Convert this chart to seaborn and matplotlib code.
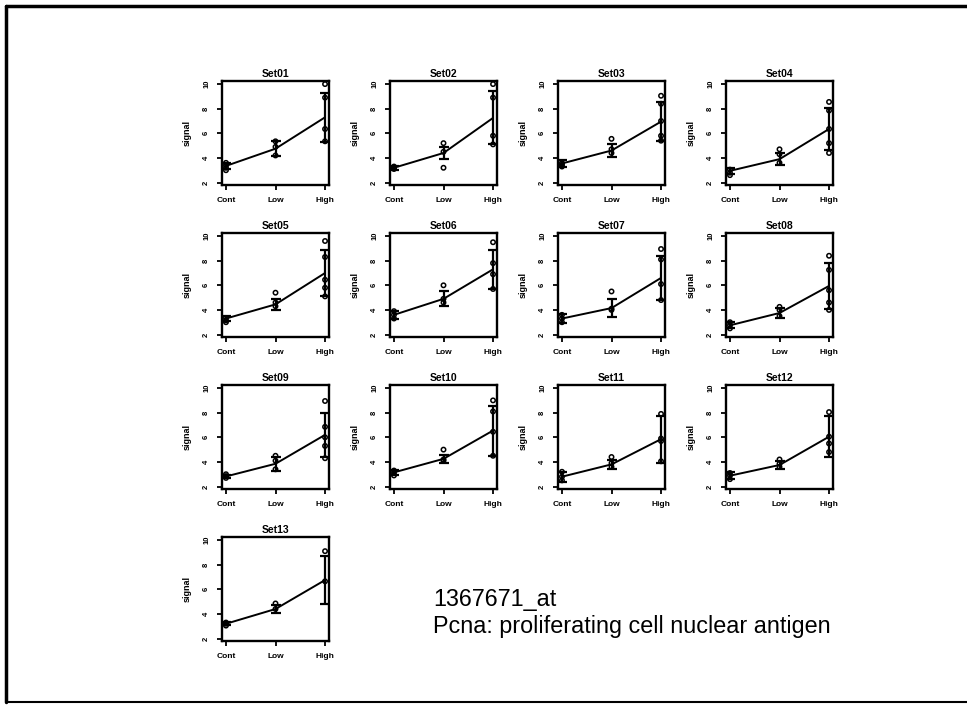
import numpy as np
import pandas as pd
import matplotlib
matplotlib.use("Agg")
import matplotlib.pyplot as plt
from matplotlib.lines import Line2D
import seaborn as sns

sns.set_style("white")
plt.rcParams['font.family'] = ['Liberation Sans', 'DejaVu Sans']
plt.rcParams.update({"text.color": "black", "axes.labelcolor": "black",
                     "xtick.color": "black", "ytick.color": "black"})

groups = ["Cont", "Low", "High"]
sets = ["Set01", "Set02", "Set03", "Set04", "Set05", "Set06", "Set07",
        "Set08", "Set09", "Set10", "Set11", "Set12", "Set13"]

mean_cont = [3.35, 3.2, 3.55, 2.95, 3.3, 3.6, 3.3, 2.75, 2.82, 3.15, 2.8, 2.88, 3.2]
mean_low = [4.75, 4.4, 4.6, 3.9, 4.45, 4.9, 4.15, 3.75, 3.85, 4.25, 3.8, 3.75, 4.4]
mean_high = [7.3, 7.25, 6.95, 6.35, 7.0, 7.3, 6.6, 5.95, 6.2, 6.55, 5.85, 6.05, 6.75]
sd_cont = [0.25, 0.15, 0.25, 0.22, 0.2, 0.35, 0.35, 0.25, 0.15, 0.2, 0.4, 0.3, 0.12]
sd_low = [0.6, 0.48, 0.5, 0.48, 0.45, 0.6, 0.7, 0.42, 0.55, 0.35, 0.35, 0.3, 0.35]
sd_high = [2.0, 2.15, 1.6, 1.7, 1.9, 1.6, 1.8, 1.9, 1.8, 2.03, 1.9, 1.65, 1.95]

pts_cont = [[3.0, 3.2, 3.4, 3.6], [3.1, 3.2, 3.3], [3.3, 3.45, 3.6], [2.6, 2.8, 3.05],
            [3.0, 3.15, 3.35], [3.3, 3.6, 3.9], [3.0, 3.3, 3.6], [2.5, 2.75, 3.0],
            [2.7, 2.85, 3.0], [2.9, 3.1, 3.3], [2.5, 2.8, 3.2], [2.6, 2.9, 3.1],
            [3.05, 3.2, 3.3]]
pts_low = [[4.2, 4.9, 5.35], [3.2, 4.5, 5.2], [4.4, 4.7, 5.55], [3.6, 4.3, 4.7],
           [4.3, 4.6, 5.4], [4.6, 4.9, 6.0], [4.0, 4.1, 5.5], [3.5, 4.0, 4.25],
           [3.4, 4.1, 4.5], [4.1, 4.2, 5.0], [3.6, 3.9, 4.4], [3.6, 3.85, 4.2],
           [4.4, 4.85]]
pts_high = [[5.35, 6.35, 8.9, 10.0], [5.1, 5.8, 8.9, 10.0], [5.4, 5.8, 7.0, 8.4, 9.05],
            [4.4, 5.2, 6.35, 7.85, 8.55], [5.1, 5.8, 6.45, 8.3, 9.6], [5.7, 6.9, 7.8, 9.5],
            [4.8, 6.1, 8.1, 8.95], [4.0, 4.6, 5.6, 7.25, 8.4], [4.3, 5.3, 6.0, 6.85, 8.95],
            [4.5, 6.45, 8.1, 9.0], [4.05, 5.7, 5.9, 7.9], [4.8, 5.5, 6.05, 8.05],
            [6.65, 9.1]]

probe_id = "1367671_at"
gene_desc = "Pcna: proliferating cell nuclear antigen"

W, H = 967, 705
fig = plt.figure(figsize=(W / 100, H / 100), dpi=100)

col_left = [222, 390, 558, 726]
row_top = [81, 233, 385, 537]
aw, ah = 107, 104

for i, name in enumerate(sets):
    r, c = divmod(i, 4)
    ax = fig.add_axes([col_left[c] / W, 1 - (row_top[r] + ah) / H, aw / W, ah / H])
    xpos = np.arange(1, 4)
    means = pd.DataFrame({"x": xpos, "signal": [mean_cont[i], mean_low[i], mean_high[i]]})
    sds = [sd_cont[i], sd_low[i], sd_high[i]]
    rows = []
    for gi, plist in enumerate([pts_cont[i], pts_low[i], pts_high[i]]):
        for v in plist:
            rows.append({"x": gi + 1, "signal": v})
    pts = pd.DataFrame(rows)

    sns.scatterplot(data=pts, x="x", y="signal", ax=ax, marker="o", s=10,
                    facecolor="none", edgecolor="black", linewidth=1.1, zorder=3)
    sns.lineplot(data=means, x="x", y="signal", ax=ax, color="black", lw=1.4, zorder=4)
    ax.errorbar(means["x"], means["signal"], yerr=sds, fmt="none", ecolor="black",
                elinewidth=1.6, capsize=3.5, capthick=1.6, zorder=5)

    ax.set_xlim(0.92, 3.08)
    ax.set_ylim(1.8, 10.25)
    ax.set_xticks(xpos)
    ax.set_xticklabels(groups, fontsize=6, fontweight="bold")
    ax.set_yticks([2, 4, 6, 8, 10])
    ax.set_yticklabels(["2", "4", "6", "8", "10"], fontsize=5.5, fontweight="bold",
                       rotation=90, va="center")
    ax.tick_params(axis="both", direction="out", length=3.5, width=1.3, color="black",
                   pad=5, bottom=True, left=True)
    ax.set_xlabel("")
    ax.set_ylabel("signal", fontsize=6.5, fontweight="bold", labelpad=8)
    ax.set_title(name, fontsize=7.5, fontweight="bold", pad=3)
    for sp in ax.spines.values():
        sp.set_visible(True)
        sp.set_color("black")
        sp.set_linewidth(1.7)

fig.text(433 / W, 1 - 606 / H, probe_id, fontsize=16.8, va="baseline", ha="left",
         color="black")
fig.text(433 / W, 1 - 633 / H, gene_desc, fontsize=16.8, va="baseline", ha="left",
         color="black")

# outer frame (left, top, bottom)
fig.add_artist(Line2D([6 / W, 6 / W], [1 - 6 / H, 3 / H], transform=fig.transFigure,
                      color="black", lw=2.5))
fig.add_artist(Line2D([6 / W, 1.0], [1 - 6 / H, 1 - 6 / H], transform=fig.transFigure,
                      color="black", lw=2.5))
fig.add_artist(Line2D([6 / W, 1.0], [3 / H, 3 / H], transform=fig.transFigure,
                      color="black", lw=1.5))

fig.savefig("out.png", dpi=100)
